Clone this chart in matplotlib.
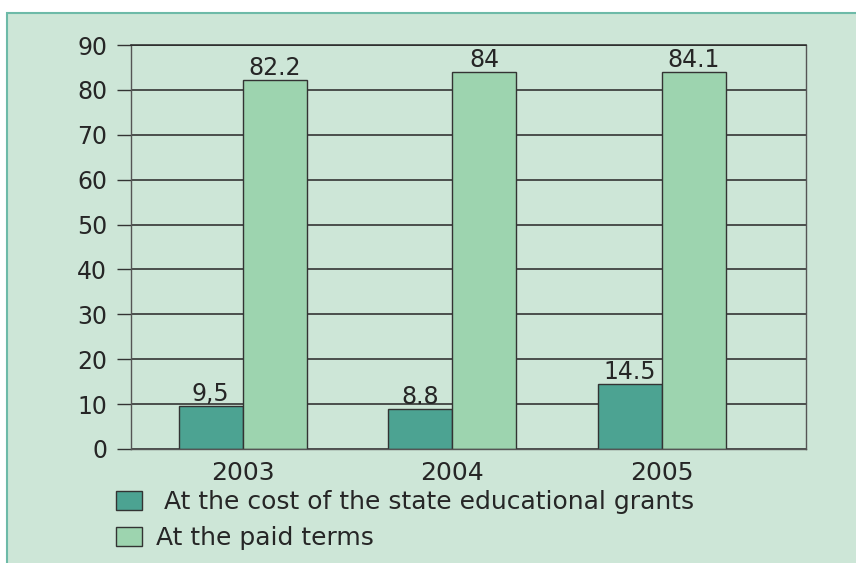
import numpy as np
import matplotlib.pyplot as plt
from matplotlib.patches import Rectangle

years = ['2003', '2004', '2005']
state_grants = [9.5, 8.8, 14.5]
paid_terms = [82.2, 84, 84.1]
state_labels = ['9,5', '8.8', '14.5']
paid_labels = ['82.2', '84', '84.1']
series_names = [' At the cost of the state educational grants', 'At the paid terms']

bg = '#cde6d7'
dark = '#4ca392'
light = '#9dd4af'
ink = '#262626'

plt.rcParams['font.family'] = ['DejaVu Sans']

fig = plt.figure(figsize=(8.56, 5.63), dpi=100)
fig.patch.set_facecolor('white')
# light green panel behind everything, open on the right and bottom
frame = Rectangle((0.0082, -0.05), 1.1, 1.027, transform=fig.transFigure,
                  facecolor=bg, edgecolor='#6dbaa8', linewidth=1.5, zorder=-10)
fig.add_artist(frame)

ax = fig.add_axes([0.1527, 0.2025, 0.7886, 0.7175])
ax.set_zorder(1)
ax.set_facecolor(bg)

x = np.arange(len(years))
w = 0.306
b1 = ax.bar(x - w / 2, state_grants, w, color=dark, edgecolor='#333333', linewidth=1, label=series_names[0])
b2 = ax.bar(x + w / 2, paid_terms, w, color=light, edgecolor='#333333', linewidth=1, label=series_names[1])

for bars, labels in [(b1, state_labels), (b2, paid_labels)]:
    for rect, lab in zip(bars, labels):
        ax.annotate(lab, (rect.get_x() + rect.get_width() / 2, rect.get_height()),
                    xytext=(0, 0), textcoords='offset points', ha='center', va='bottom',
                    fontsize=17, color=ink)

ax.set_xlim(-0.535, 2.687)
ax.set_ylim(0, 90)
ax.set_yticks(range(0, 91, 10))
ax.set_xticks(x)
ax.set_xticklabels(years)
ax.yaxis.grid(True, color=ink, linewidth=1.1)
ax.set_axisbelow(True)
ax.tick_params(axis='y', length=10, width=1, color='#333333', pad=7, labelsize=17, labelcolor=ink)
ax.tick_params(axis='x', length=0, pad=9, labelsize=18, labelcolor=ink)
for s in ['left', 'right', 'bottom']:
    ax.spines[s].set_color('#555555')
    ax.spines[s].set_linewidth(1)
ax.spines['top'].set_color(ink)
ax.spines['top'].set_linewidth(1.1)

fig.legend(loc='upper left', bbox_to_anchor=(116 / 856, 1 - 490 / 563),
           frameon=False, fontsize=18, handlelength=1.04, handleheight=0.76,
           handletextpad=0.55, labelspacing=0.48, borderpad=0, borderaxespad=0,
           labelcolor=ink)

fig.savefig('out.png', dpi=100)
